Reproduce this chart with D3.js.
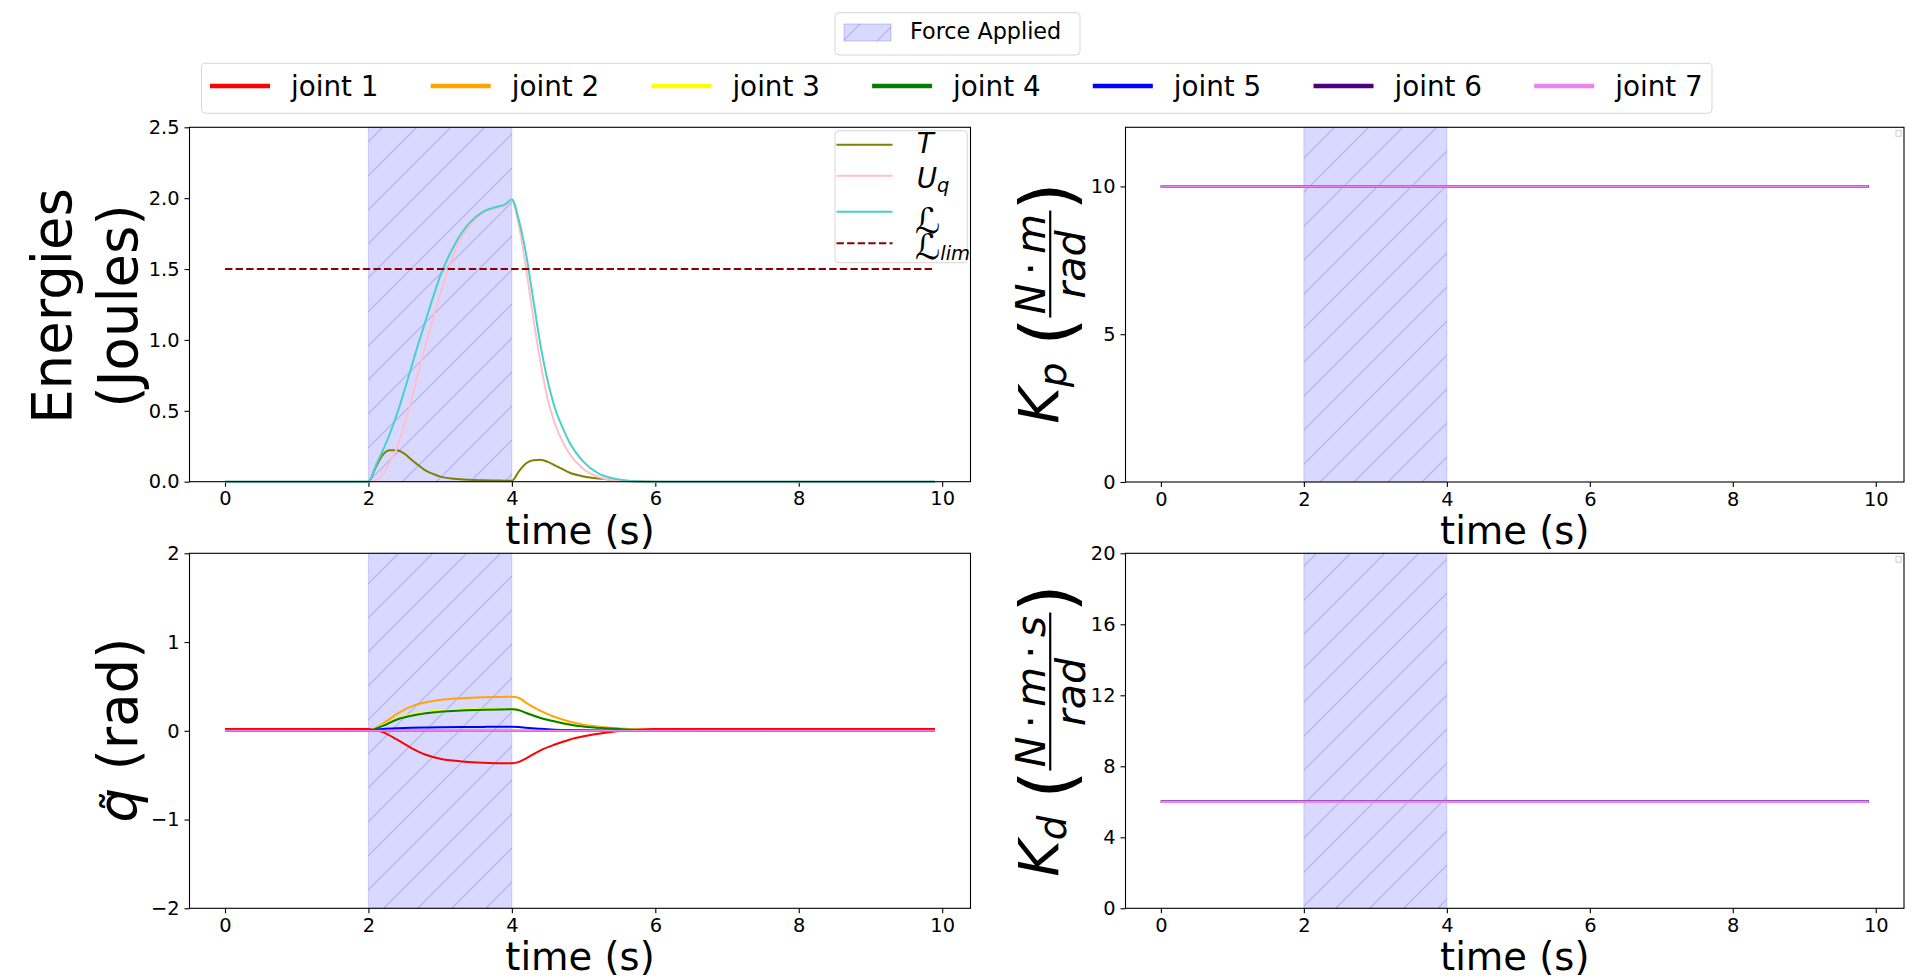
<!DOCTYPE html>
<html lang="en">
<head>
<meta charset="UTF-8">
<title>Energies and gains</title>
<script src="https://cdn.jsdelivr.net/npm/d3@7"></script>
<style>
  body { margin: 0; background: #fff; }
  svg { display: block; font-family: "DejaVu Sans", sans-serif; }
  .tick text { font-size: 19.4px; fill: #000; font-family: "DejaVu Sans", sans-serif; }
  .tick line { stroke: #000; stroke-width: 1.1; }
</style>
</head>
<body>
<script>

// ---- data ----
var forceStart = 2, forceEnd = 4;

var energyTime = [0, 2.0, 2.1, 2.2, 2.3, 2.4, 2.5, 2.6, 2.7, 2.8, 2.9, 3.0, 3.2, 3.4, 3.6, 3.8, 3.9, 4.0,
                  4.1, 4.2, 4.3, 4.4, 4.5, 4.6, 4.7, 4.8, 5.0, 5.2, 5.4, 5.6, 5.8, 6.0, 9.9];
var kinetic    = [0, 0, 0.10, 0.19, 0.222, 0.222, 0.198, 0.155, 0.115, 0.078, 0.055, 0.036, 0.02, 0.013, 0.01, 0.008, 0.007, 0.007,
                  0.075, 0.13, 0.152, 0.154, 0.14, 0.115, 0.09, 0.065, 0.037, 0.022, 0.014, 0.005, 0.001, 0, 0];
var potential  = [0, 0, 0.01, 0.05, 0.14, 0.24, 0.40, 0.58, 0.78, 0.97, 1.15, 1.32, 1.62, 1.80, 1.895, 1.932, 1.948, 1.98,
                  1.80, 1.50, 1.15, 0.84, 0.58, 0.41, 0.29, 0.20, 0.09, 0.035, 0.012, 0.003, 0, 0, 0];
var lagrangian = [0, 0, 0.11, 0.22, 0.34, 0.48, 0.64, 0.81, 0.98, 1.14, 1.30, 1.45, 1.67, 1.82, 1.905, 1.94, 1.955, 1.99,
                  1.84, 1.60, 1.28, 0.96, 0.71, 0.52, 0.39, 0.28, 0.14, 0.06, 0.025, 0.008, 0.002, 0, 0];
var limitTime  = [0, 9.9];
var limitValue = [1.5, 1.5];

var qTime  = [0, 2.0, 2.2, 2.4, 2.6, 2.8, 3.0, 3.3, 3.6, 4.0, 4.1, 4.2, 4.4, 4.6, 4.8, 5.0, 5.3, 5.6, 6.0, 9.9];
var joint1 = [0.02, 0.02, -0.015, -0.10, -0.195, -0.27, -0.315, -0.345, -0.36, -0.366, -0.35, -0.31, -0.22, -0.155, -0.10, -0.062, -0.022, 0.006, 0.02, 0.02];
var joint2 = [0.003, 0.003, 0.08, 0.19, 0.275, 0.322, 0.348, 0.366, 0.377, 0.384, 0.37, 0.315, 0.225, 0.155, 0.105, 0.068, 0.04, 0.022, 0.008, 0.003];
var joint3 = [0.003, 0.003, 0.065, 0.14, 0.185, 0.21, 0.228, 0.24, 0.247, 0.25, 0.236, 0.203, 0.148, 0.108, 0.075, 0.05, 0.03, 0.016, 0.007, 0.003];
var joint4 = [0.003, 0.003, 0.055, 0.128, 0.17, 0.197, 0.215, 0.228, 0.236, 0.242, 0.232, 0.2, 0.145, 0.105, 0.072, 0.048, 0.028, 0.015, 0.006, 0.003];
var joint5 = [0.003, 0.005, 0.02, 0.028, 0.033, 0.037, 0.04, 0.042, 0.044, 0.045, 0.042, 0.035, 0.022, 0.013, 0.008, 0.006, 0.004, 0.003, 0.003, 0.003];
var joint6 = [0, 0, 0, 0, 0, 0, 0, 0, 0, 0, 0, 0, 0, 0, 0, 0, 0, 0, 0, 0];
var joint7 = [0, 0, 0, 0, 0, 0, 0, 0, 0, 0, 0, 0, 0, 0, 0, 0, 0, 0, 0, 0];

var gainTime = [0, 9.9];
var kpGain = [10, 10, 10, 10, 10, 10, 10];
var kdGain = [6, 6, 6, 6, 6, 6, 6];

var jointNames  = ["joint 1", "joint 2", "joint 3", "joint 4", "joint 5", "joint 6", "joint 7"];
var jointColors = ["red", "orange", "yellow", "green", "blue", "indigo", "violet"];

var xTicks = [0, 2, 4, 6, 8, 10];
var energyTicks = [0, 0.5, 1.0, 1.5, 2.0, 2.5];
var qTicks = [-2, -1, 0, 1, 2];
var kpTicks = [0, 5, 10];
var kdTicks = [0, 4, 8, 12, 16, 20];

// ---- drawing ----
var svg = d3.select("body").append("svg")
    .attr("width", 1914)
    .attr("height", 976);

var defs = svg.append("defs");
var hatch = defs.append("pattern")
    .attr("id", "hatch")
    .attr("patternUnits", "userSpaceOnUse")
    .attr("width", 34).attr("height", 34);
hatch.append("rect").attr("width", 34).attr("height", 34).attr("fill", "rgba(0,0,255,0.15)");
hatch.append("path")
    .attr("d", "M0,34L34,0M-17,17L17,-17M17,51L51,17")
    .attr("stroke", "rgba(0,0,255,0.2)")
    .attr("stroke-width", 1.1);

var xDomain = [-0.495, 10.395];

function panel(box, yDomain, yTicks, yFormat) {
    var x = d3.scaleLinear().domain(xDomain).range([box.x0, box.x1]);
    var y = d3.scaleLinear().domain(yDomain).range([box.y1, box.y0]);
    var g = svg.append("g");

    g.append("rect")
        .attr("x", x(forceStart))
        .attr("y", box.y0)
        .attr("width", x(forceEnd) - x(forceStart))
        .attr("height", box.y1 - box.y0)
        .attr("fill", "url(#hatch)")
        .attr("stroke", "rgba(0,0,255,0.15)")
        .attr("stroke-width", 1);

    g.append("g")
        .attr("transform", "translate(0," + box.y1 + ")")
        .call(d3.axisBottom(x).tickValues(xTicks).tickFormat(d3.format("d")).tickSize(5).tickPadding(5).tickSizeOuter(0))
        .call(function (a) { a.select(".domain").remove(); });

    g.append("g")
        .attr("transform", "translate(" + box.x0 + ",0)")
        .call(d3.axisLeft(y).tickValues(yTicks).tickFormat(yFormat).tickSize(5).tickPadding(5).tickSizeOuter(0))
        .call(function (a) { a.select(".domain").remove(); });

    var lines = g.append("g");

    // frame drawn last
    var frame = function () {
        g.append("rect")
            .attr("x", box.x0).attr("y", box.y0)
            .attr("width", box.x1 - box.x0).attr("height", box.y1 - box.y0)
            .attr("fill", "none").attr("stroke", "#000").attr("stroke-width", 1.1);
    };

    g.append("text")
        .attr("x", (box.x0 + box.x1) / 2)
        .attr("y", box.xlabelY)
        .attr("text-anchor", "middle")
        .attr("font-size", 38.5)
        .text("time (s)");

    return { x: x, y: y, lines: lines, frame: frame };
}

function drawLine(p, ts, vs, color, width, dash) {
    var line = d3.line()
        .x(function (d) { return p.x(d[0]); })
        .y(function (d) { return p.y(d[1]); })
        .curve(d3.curveMonotoneX);
    var path = p.lines.append("path")
        .datum(d3.zip(ts, vs))
        .attr("d", line)
        .attr("fill", "none")
        .attr("stroke", color)
        .attr("stroke-width", width)
        .attr("stroke-linejoin", "round");
    if (dash) path.attr("stroke-dasharray", dash);
}

var boxTL = { x0: 189.5, x1: 970.5, y0: 127.3, y1: 481.7, xlabelY: 544 };
var boxBL = { x0: 189.5, x1: 970.5, y0: 553.3, y1: 908.3, xlabelY: 970 };
var boxTR = { x0: 1125.5, x1: 1904, y0: 127.3, y1: 482, xlabelY: 544 };
var boxBR = { x0: 1125.5, x1: 1904, y0: 553.3, y1: 908.3, xlabelY: 970 };

// energies
var pE = panel(boxTL, [0, 2.5], energyTicks, d3.format(".1f"));
drawLine(pE, energyTime, kinetic, "olive", 2);
drawLine(pE, energyTime, potential, "pink", 2);
drawLine(pE, energyTime, lagrangian, "mediumturquoise", 2);
drawLine(pE, limitTime, limitValue, "darkred", 2, "7.4,3.2");
pE.frame();

// joint errors
var pQ = panel(boxBL, [-2, 2], qTicks, d3.format("d"));
[joint1, joint2, joint3, joint4, joint5, joint6, joint7].forEach(function (vals, i) {
    drawLine(pQ, qTime, vals, jointColors[i], 2);
});
pQ.frame();

// Kp
var pKp = panel(boxTR, [0, 12], kpTicks, d3.format("d"));
kpGain.forEach(function (v, i) {
    drawLine(pKp, gainTime, [v, v], jointColors[i], 2.5);
});
pKp.frame();

// Kd
var pKd = panel(boxBR, [0, 20], kdTicks, d3.format("d"));
kdGain.forEach(function (v, i) {
    drawLine(pKd, gainTime, [v, v], jointColors[i], 2.5);
});
pKd.frame();

// tiny empty legend boxes in the gain plots
[boxTR, boxBR].forEach(function (b) {
    svg.append("rect")
        .attr("x", b.x1 - 8).attr("y", b.y0 + 3)
        .attr("width", 5).attr("height", 6)
        .attr("fill", "#fff").attr("stroke", "#ccc").attr("stroke-width", 1);
});

// ---- y labels ----
function rotText(px, py, txt, size) {
    return svg.append("text")
        .attr("transform", "translate(" + px + "," + py + ") rotate(-90)")
        .attr("text-anchor", "middle")
        .attr("font-size", size)
        .text(txt);
}
rotText(70.5, 306, "Energies", 54.5);
rotText(137, 306, "(Joules)", 54.5);

// q tilde (rad)
(function () {
    var fs = 54.5;
    var g = svg.append("g").attr("transform", "translate(137,730) rotate(-90)");
    var inner = g.append("g");
    var q = inner.append("text").attr("x", 0).attr("y", 0).attr("font-size", fs)
        .attr("font-style", "italic").text("q");
    var wq = q.node().getBBox().width;
    inner.append("text").attr("x", wq * 0.62).attr("y", -0.05 * fs).attr("font-size", fs * 0.8)
        .attr("text-anchor", "middle").text("\u02DC");
    var r = inner.append("text").attr("x", wq).attr("y", 0).attr("font-size", fs)
        .text("\u00A0(rad)");
    var total = wq + r.node().getComputedTextLength();
    inner.attr("transform", "translate(" + (-total / 2) + ",0)");
})();

function gainLabel(px, py, subText, numParts) {
    var fs = 55.6, fsS = fs * 0.74, fsP = fs * 1.3;
    var g = svg.append("g").attr("transform", "translate(" + px + "," + py + ") rotate(-90)");
    var inner = g.append("g");
    var cur = 0;
    var barY = -0.14 * fs;
    function put(txt, size, italic, dy) {
        var t = inner.append("text").attr("x", cur).attr("y", dy).attr("font-size", size)
            .attr("font-style", italic ? "italic" : "normal").text(txt);
        return t.node().getComputedTextLength();
    }
    cur += put("K", fs, true, 0);
    cur += put(subText, fs * 0.7, true, 0.14 * fs) + 0.3 * fs;
    // paren glyph is centred roughly 0.31 em above its baseline
    cur += put("(", fsP, false, barY + 0.31 * fsP);

    var num = inner.append("text").attr("font-size", fsS).attr("y", barY - 0.1 * fs);
    numParts.forEach(function (part, i) {
        var ts = num.append("tspan").text(part);
        if (part === "\u00B7") {
            ts.attr("dx", 0.2 * fsS);
        } else {
            ts.attr("font-style", "italic");
            if (i > 0) ts.attr("dx", 0.2 * fsS);
        }
    });
    var den = inner.append("text").attr("font-size", fsS).attr("font-style", "italic")
        .attr("y", barY + 0.06 * fs + 0.76 * fsS).text("rad");
    var wn = num.node().getBBox().width, wd = den.node().getBBox().width;
    var wb = Math.max(wn, wd) + 0.12 * fs;
    num.attr("x", cur + (wb - wn) / 2);
    den.attr("x", cur + (wb - wd) / 2);
    inner.append("line")
        .attr("x1", cur).attr("x2", cur + wb)
        .attr("y1", barY).attr("y2", barY)
        .attr("stroke", "#000").attr("stroke-width", 2.2);
    cur += wb;
    cur += put(")", fsP, false, barY + 0.31 * fsP);
    inner.attr("transform", "translate(" + (-cur / 2) + ",0)");
}
gainLabel(1058, 303, "p", ["N", "\u00B7", "m"]);
gainLabel(1058, 730.5, "d", ["N", "\u00B7", "m", "\u00B7", "s"]);

// ---- legends ----
// force applied
svg.append("rect").attr("x", 835).attr("y", 12.7).attr("width", 245).attr("height", 42.3)
    .attr("rx", 4).attr("fill", "#fff").attr("stroke", "#d6d6d6").attr("stroke-width", 1);
svg.append("rect").attr("x", 844).attr("y", 24).attr("width", 47).attr("height", 17)
    .attr("fill", "url(#hatch)").attr("stroke", "rgba(0,0,255,0.2)").attr("stroke-width", 1);
svg.append("text").attr("x", 910).attr("y", 38.5).attr("font-size", 22.3).text("Force Applied");

// joints
svg.append("rect").attr("x", 201.5).attr("y", 63.3).attr("width", 1510.5).attr("height", 50)
    .attr("rx", 4).attr("fill", "#fff").attr("stroke", "#d6d6d6").attr("stroke-width", 1);
var jl = svg.selectAll(".jleg")
    .data(jointNames)
    .enter()
        .append("g")
        .attr("class", "jleg")
        .attr("transform", function (d, i) { return "translate(" + (210 + i * 220.7) + ",0)"; });
jl.append("line")
    .attr("x1", 0).attr("x2", 60).attr("y1", 86).attr("y2", 86)
    .attr("stroke", function (d, i) { return jointColors[i]; })
    .attr("stroke-width", 4.5);
jl.append("text")
    .attr("x", 81).attr("y", 95.5)
    .attr("font-size", 27.8)
    .text(function (d) { return d; });

// energy legend
svg.append("rect").attr("x", 835).attr("y", 130.7).attr("width", 132.3).attr("height", 132)
    .attr("rx", 4).attr("fill", "#fff").attr("fill-opacity", 0.8).attr("stroke", "#d6d6d6").attr("stroke-width", 1);
var eLeg = [
    { color: "olive", y: 144.7, dash: null },
    { color: "pink", y: 175.7, dash: null },
    { color: "mediumturquoise", y: 211.7, dash: null },
    { color: "darkred", y: 243.3, dash: "7.4,3.2" }
];
eLeg.forEach(function (e) {
    var l = svg.append("line").attr("x1", 836.5).attr("x2", 892.5).attr("y1", e.y).attr("y2", e.y)
        .attr("stroke", e.color).attr("stroke-width", 2);
    if (e.dash) l.attr("stroke-dasharray", e.dash);
});
svg.append("text").attr("x", 916.7).attr("y", 153.3).attr("font-size", 27.8).attr("font-style", "italic").text("T");
var tu = svg.append("text").attr("x", 916.7).attr("y", 188).attr("font-size", 27.8).attr("font-style", "italic");
tu.append("tspan").text("U");
tu.append("tspan").attr("font-size", 19.5).attr("dy", 4).text("q");
svg.append("text").attr("x", 915).attr("y", 233).attr("font-size", 35).attr("font-style", "italic").text("\u2112");
var tl = svg.append("text").attr("x", 915).attr("y", 259).attr("font-size", 35).attr("font-style", "italic");
tl.append("tspan").text("\u2112");
tl.append("tspan").attr("font-size", 19.5).attr("dy", 1).text("lim");

</script>
</body>
</html>
